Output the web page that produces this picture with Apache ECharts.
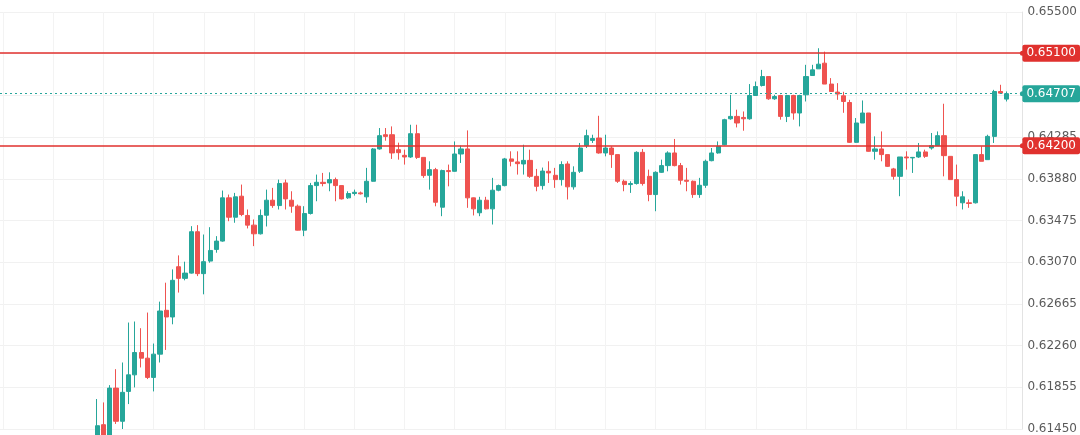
<!DOCTYPE html>
<html>
<head>
<meta charset="utf-8">
<script src="https://cdn.jsdelivr.net/npm/echarts@6/dist/echarts.min.js"></script>
<style>
html,body{margin:0;padding:0;background:#fff;}
#chart{width:1080px;height:435px;}
</style>
</head>
<body>
<div id="chart"></div>
<script>
// leading / trailing empty slots on the time axis
const leadEmpty = 15;
const trailEmpty = 2;

const opens = [0.61353,0.61492,0.61334,0.61847,0.61525,0.61815,0.61976,0.62193,0.62138,0.61951,
0.62177,0.62603,0.62538,0.63026,0.62913,0.62964,0.63366,0.62959,0.63081,0.63194,
0.63275,0.63695,0.63507,0.63711,0.63524,0.63430,0.63346,0.63526,0.63672,0.63620,
0.63840,0.63672,0.63614,0.63381,0.63543,0.63814,0.63846,0.63840,0.63872,0.63814,
0.63695,0.63737,0.63743,0.63705,0.63856,0.64170,0.64308,0.64308,0.64163,0.64108,
0.64092,0.64318,0.64088,0.63914,0.63969,0.63604,0.63960,0.63953,0.64121,0.64170,
0.63695,0.63550,0.63672,0.63588,0.63769,0.63814,0.64073,0.64044,0.64024,0.64059,
0.63904,0.63814,0.63953,0.63914,0.63872,0.64024,0.63802,0.63953,0.64202,0.64253,
0.64276,0.64131,0.64179,0.64115,0.63856,0.63824,0.63834,0.64137,0.63904,0.63727,
0.63943,0.64008,0.64131,0.64008,0.63866,0.63856,0.63727,0.63817,0.64056,0.64131,
0.64211,0.64463,0.64486,0.64476,0.64463,0.64689,0.64786,0.64873,0.64657,0.64689,
0.64486,0.64689,0.64519,0.64696,0.64883,0.64948,0.65003,0.64800,0.64722,0.64686,
0.64621,0.64234,0.64422,0.64519,0.64147,0.64170,0.64115,0.63976,0.63904,0.64092,
0.64083,0.64092,0.64141,0.64179,0.64202,0.64299,0.64098,0.63872,0.63647,0.63647,
0.63647,0.64115,0.64066,0.64292,0.64728,0.64654];

const closes = [0.61482,0.61334,0.61847,0.61525,0.61806,0.61976,0.62193,0.62138,0.61951,0.62177,
0.62596,0.62538,0.62894,0.62913,0.62964,0.63366,0.62959,0.63075,0.63184,0.63275,
0.63695,0.63507,0.63705,0.63533,0.63430,0.63346,0.63524,0.63672,0.63620,0.63834,
0.63685,0.63614,0.63381,0.63543,0.63814,0.63846,0.63834,0.63872,0.63814,0.63685,
0.63737,0.63749,0.63734,0.63856,0.64170,0.64299,0.64292,0.64131,0.64134,0.64092,
0.64318,0.64088,0.63911,0.63969,0.63652,0.63960,0.63950,0.64121,0.64170,0.63695,
0.63588,0.63672,0.63588,0.63769,0.63814,0.64073,0.64050,0.64027,0.64059,0.63904,
0.63807,0.63955,0.63937,0.63872,0.64018,0.63802,0.63943,0.64179,0.64299,0.64272,
0.64131,0.64179,0.64115,0.63856,0.63824,0.63834,0.64137,0.63834,0.63727,0.63943,
0.64008,0.64131,0.64008,0.63866,0.63856,0.63727,0.63817,0.64050,0.64131,0.64195,
0.64454,0.64486,0.64422,0.64463,0.64689,0.64776,0.64873,0.64657,0.64679,0.64486,
0.64689,0.64519,0.64689,0.64873,0.64938,0.64993,0.64800,0.64728,0.64703,0.64631,
0.64234,0.64422,0.64519,0.64147,0.64170,0.64115,0.64001,0.63904,0.64092,0.64083,
0.64088,0.64141,0.64098,0.64202,0.64299,0.64105,0.63872,0.63711,0.63705,0.63640,
0.64115,0.64050,0.64292,0.64728,0.64712,0.64707];

const lows = [0.61295,0.61256,0.61305,0.61499,0.61450,0.61692,0.61854,0.62048,0.61935,0.61815,
0.62096,0.62218,0.62467,0.62775,0.62894,0.62959,0.62935,0.62758,0.63065,0.63162,
0.63269,0.63468,0.63453,0.63517,0.63398,0.63226,0.63339,0.63417,0.63598,0.63582,
0.63582,0.63550,0.63378,0.63323,0.63533,0.63662,0.63807,0.63759,0.63662,0.63679,
0.63685,0.63717,0.63727,0.63647,0.63853,0.64163,0.64250,0.64073,0.64066,0.64018,
0.64083,0.64073,0.63889,0.63775,0.63613,0.63517,0.63807,0.63950,0.64034,0.63598,
0.63524,0.63517,0.63582,0.63436,0.63759,0.63807,0.64001,0.63921,0.63921,0.63889,
0.63759,0.63775,0.63840,0.63792,0.63814,0.63679,0.63775,0.63937,0.64179,0.64228,
0.64124,0.64098,0.63986,0.63840,0.63759,0.63743,0.63824,0.63814,0.63662,0.63565,
0.63937,0.63953,0.64001,0.63824,0.63759,0.63695,0.63695,0.63792,0.64050,0.64124,
0.64205,0.64454,0.64379,0.64347,0.64454,0.64689,0.64776,0.64647,0.64647,0.64454,
0.64431,0.64454,0.64389,0.64631,0.64883,0.64948,0.64800,0.64728,0.64647,0.64521,
0.64228,0.64228,0.64422,0.64144,0.64066,0.64050,0.63995,0.63872,0.63711,0.63969,
0.63937,0.64083,0.64083,0.64163,0.64202,0.63904,0.63872,0.63614,0.63582,0.63598,
0.63640,0.64050,0.64066,0.64228,0.64712,0.64631];

const highs = [0.61741,0.61708,0.61876,0.62031,0.62096,0.62484,0.62494,0.62429,0.62581,0.62280,
0.62687,0.62871,0.63000,0.63136,0.63075,0.63420,0.63430,0.63339,0.63410,0.63323,
0.63766,0.63727,0.63743,0.63824,0.63582,0.63485,0.63582,0.63775,0.63792,0.63872,
0.63872,0.63759,0.63630,0.63614,0.63840,0.63921,0.63937,0.63943,0.63892,0.63814,
0.63759,0.63775,0.63756,0.63986,0.64179,0.64373,0.64373,0.64389,0.64231,0.64163,
0.64405,0.64405,0.64088,0.64050,0.63986,0.63969,0.64018,0.64243,0.64202,0.64350,
0.63698,0.63705,0.63705,0.63889,0.63824,0.64083,0.64147,0.64147,0.64211,0.64163,
0.63976,0.63989,0.64050,0.63986,0.64050,0.64050,0.64001,0.64228,0.64357,0.64308,
0.64492,0.64308,0.64195,0.64115,0.63872,0.63856,0.64147,0.64170,0.63969,0.63953,
0.64066,0.64147,0.64267,0.64034,0.63986,0.63863,0.63889,0.64066,0.64179,0.64243,
0.64463,0.64696,0.64551,0.64534,0.64800,0.64825,0.64938,0.64873,0.64696,0.64696,
0.64696,0.64696,0.64696,0.64987,0.64987,0.65148,0.65115,0.64858,0.64809,0.64725,
0.64647,0.64470,0.64641,0.64519,0.64292,0.64340,0.64115,0.63986,0.64092,0.64147,
0.64092,0.64228,0.64163,0.64325,0.64340,0.64609,0.64098,0.64018,0.63759,0.63679,
0.64115,0.64195,0.64308,0.64744,0.64793,0.64728];

// horizontal levels
const resistance = 0.65100;
const support = 0.64200;
const lastPrice = 0.64707;

// y-axis tick values
const yMin = 0.61450;
const yMax = 0.65500;
const yStep = 0.00405;

const UP = '#26a69a', DOWN = '#ef5350', LEVEL = '#e0312e';
const FONT = 'DejaVu Sans';

const total = leadEmpty + opens.length + trailEmpty;
const categories = [];
for (let i = 0; i < total; i++) categories.push(String(i));
const candles = [];
for (let i = 0; i < leadEmpty; i++) candles.push('-');
for (let i = 0; i < opens.length; i++) candles.push([opens[i], closes[i], lows[i], highs[i]]);
for (let i = 0; i < trailEmpty; i++) candles.push('-');
const blanks = categories.map(() => '-');

const chart = echarts.init(document.getElementById('chart'), null, {renderer: 'canvas'});

function levelLine(value, color, type, width) {
  return {
    yAxis: value,
    lineStyle: {color: color, width: width, type: type, opacity: 1},
    itemStyle: {color: color},
    label: {
      show: true, position: 'end', distance: 0,
      formatter: () => value.toFixed(5),
      color: '#fff', backgroundColor: color,
      fontFamily: FONT, fontSize: 12,
      padding: [3, 4, 2, 4], borderRadius: 2
    }
  };
}

chart.setOption({
  animation: false,
  backgroundColor: '#fff',
  grid: {left: -2, right: 57, top: 12, bottom: 5, containLabel: false},
  xAxis: {
    type: 'category',
    data: categories,
    boundaryGap: true,
    axisLine: {show: false},
    axisTick: {show: false},
    axisLabel: {show: false},
    splitLine: {
      show: true,
      alignWithLabel: true,
      interval: (idx) => idx >= 0 && (idx - 24) % 8 === 0,
      lineStyle: {color: '#f3f3f3', width: 1}
    }
  },
  yAxis: {
    type: 'value',
    position: 'right',
    min: yMin, max: yMax, interval: yStep,
    axisLine: {show: true, lineStyle: {color: '#e3e3e3'}},
    axisTick: {show: false},
    axisLabel: {
      color: '#5a5a5a', fontFamily: FONT, fontSize: 12, margin: 5,
      formatter: (v) => v.toFixed(5)
    },
    splitLine: {show: true, lineStyle: {color: '#f1f1f1', width: 1}}
  },
  series: [{
    type: 'candlestick',
    data: candles,
    clip: false,
    barWidth: '74%',
    itemStyle: {
      color: UP, color0: DOWN,
      borderColor: UP, borderColor0: DOWN,
      borderWidth: 1
    }
  }, {
    type: 'line',
    data: blanks,
    symbol: 'none',
    silent: true,
    color: LEVEL,
    lineStyle: {opacity: 0},
    markLine: {
      silent: true,
      precision: 5,
      symbol: ['none', 'circle'],
      symbolSize: 5,
      animation: false,
      lineStyle: {color: LEVEL, width: 1.5, opacity: 1},
      data: [
        levelLine(resistance, LEVEL, 'solid', 1.5),
        levelLine(support, LEVEL, 'solid', 1.5),
        levelLine(lastPrice, UP, [2, 3], 1.2)
      ]
    }
  }]
});
</script>
</body>
</html>
